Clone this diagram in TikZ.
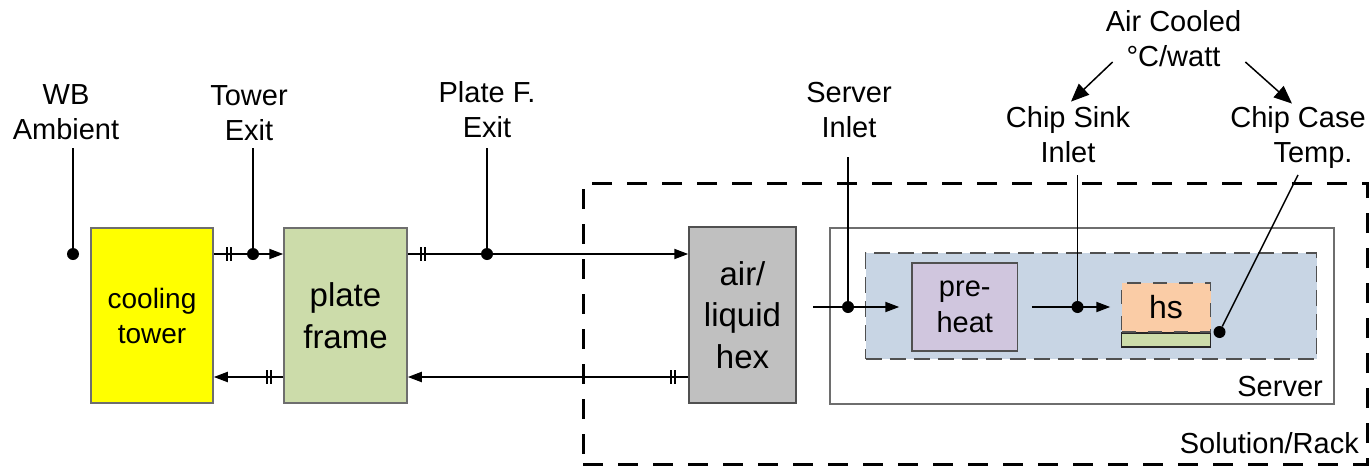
\documentclass[tikz,border=0pt]{standalone}
\usepackage{fontspec}
\setmainfont{Liberation Sans}
\usetikzlibrary{arrows.meta,calc}
\definecolor{cyellow}{RGB}{255,255,0}
\definecolor{cgreen}{RGB}{204,220,170}
\definecolor{cgrey}{RGB}{192,192,192}
\definecolor{cblue}{RGB}{200,213,228}
\definecolor{cpurple}{RGB}{208,198,222}
\definecolor{cpeach}{RGB}{250,204,166}
\definecolor{cborder}{RGB}{110,110,110}
\definecolor{cdark}{RGB}{80,80,80}
\begin{document}
\begin{tikzpicture}[x=1pt,y=-1pt,
  lbl/.style={font=\fontsize{29}{35}\selectfont, align=center, inner sep=0pt, text depth=0pt, anchor=south},
  blk/.style={draw=cborder, line width=1.5pt, inner sep=0pt, align=center},
  jdot/.style={circle, fill=black, inner sep=0pt, minimum size=12pt},
  wire/.style={line width=2pt},
  flow/.style={wire, -{Triangle[length=14pt,width=10pt]}},
  bigarr/.style={line width=1.5pt, -{Triangle[length=18pt,width=15pt]}},
  brk/.pic={\draw[line width=1.5pt] (-2,-7) -- (-2,7) (2,-7) -- (2,7);}
]
\useasboundingbox (0,0) rectangle (1371,466);

% rack and server containers
\node[draw, line width=3pt, dash pattern=on 20pt off 15pt, inner sep=0pt,
      minimum width=784pt, minimum height=281pt] (rack) at (975,323.5) {};
\node[draw=cborder, line width=1.8pt, inner sep=0pt,
      minimum width=503.5pt, minimum height=176pt] (server) at (1082,316) {};
\node[fill=cblue, draw=cdark, line width=1.5pt, dash pattern=on 16pt off 8pt, inner sep=0pt,
      minimum width=451pt, minimum height=106pt] (cpu) at (1091,306) {};

% blocks
\node[blk, fill=cyellow, minimum width=122pt, minimum height=175pt,
      font=\fontsize{28}{35}\selectfont] (tower) at (152,315.5) {cooling\\tower};
\node[blk, fill=cgreen, minimum width=123pt, minimum height=175pt,
      font=\fontsize{33}{42}\selectfont] (plate) at (345.5,315.5) {plate\\frame};
\node[blk, draw=cdark, fill=cgrey, minimum width=107pt, minimum height=176pt,
      font=\fontsize{33}{41.5}\selectfont] (hex) at (742.5,315) {air/\\liquid\\hex};
\node[blk, draw=cdark, fill=cpurple, minimum width=105.5pt, minimum height=88pt,
      font=\fontsize{29}{36}\selectfont] (preheat) at (964.75,307) {pre-\\heat};
\node[draw=black!85, fill=cgreen, line width=1.2pt, inner sep=0pt,
      minimum width=89pt, minimum height=14pt] (strip) at (1166,340) {};
\node[draw=cdark, fill=cpeach, line width=1.5pt, dash pattern=on 14pt off 12pt, inner sep=0pt,
      minimum width=89pt, minimum height=49pt, font=\fontsize{32}{38}\selectfont] (hs) at (1166,307.5) {hs};

% container labels
\node[lbl, anchor=base east] (lsrv) at (1323,396) {Server};
\node[lbl, anchor=base east] (lrack) at (1359,453) {Solution/Rack};

% measurement labels
\node[lbl] (lWB) at (66,140) {WB\\Ambient};
\node[lbl] (lTE) at (249,141) {Tower\\Exit};
\node[lbl] (lPE) at (487,138) {Plate F.\\Exit};
\node[lbl] (lSI) at (849,138) {Server\\Inlet};
\node[lbl] (lCS) at (1068,163) {Chip Sink\\Inlet};
\node[lbl] (lCC) at (1298,163) {Chip Case\\\hspace*{30pt}Temp.};
\node[lbl] (lAC) at (1173.5,67) {Air Cooled\\°C/watt};

% measurement points
\node[jdot] (dWB) at (73,254) {};
\node[jdot] (dTE) at (253,254) {};
\node[jdot] (dPE) at (487,254) {};
\node[jdot] (dSI) at (848,307) {};
\node[jdot] (dCS) at (1077.5,307) {};
\node[jdot] (dCC) at (1219.5,332) {};
\coordinate (rB) at (0,377);
\coordinate (si0) at (813,307);

% liquid loops
\draw[flow] (tower.east |- dTE) -- (plate.west |- dTE);
\draw[flow] (plate.east |- dPE) -- (hex.west |- dPE);
\draw[flow] (hex.west |- rB) -- (plate.east |- rB);
\draw[flow] (plate.west |- rB) -- (tower.east |- rB);
\pic at (229,254) {brk};
\pic at (423,254) {brk};
\pic at (673,377) {brk};
\pic at (269,377) {brk};

% air path
\draw[flow, shorten >=12pt] (si0) -- (preheat.west);
\draw[flow, shorten <=13.5pt, shorten >=10.5pt] (preheat.east) -- (hs.west |- preheat.east);

% label leaders
\draw[wire, shorten >=8pt] (dWB) -- (dWB |- lWB.south);
\draw[wire, shorten >=7pt] (dTE) -- (dTE |- lTE.south);
\draw[wire, shorten >=10pt] (dPE) -- (dPE |- lPE.south);
\draw[wire, shorten >=19pt] (dSI) -- (dSI |- lSI.south);
\draw[line width=1.6pt, shorten >=12pt] (dCS) -- (dCS |- lCS.south);
\draw[line width=1.5pt] (dCC) -- ([yshift=-12pt]lCC.south);
\draw[bigarr] ([xshift=7pt,yshift=5pt]lAC.south west) -- ([xshift=3pt,yshift=5pt]lCS.north);
\draw[bigarr] ([xshift=4pt,yshift=5pt]lAC.south east) -- ([xshift=-6pt,yshift=3pt]lCC.north);
\end{tikzpicture}
\end{document}
